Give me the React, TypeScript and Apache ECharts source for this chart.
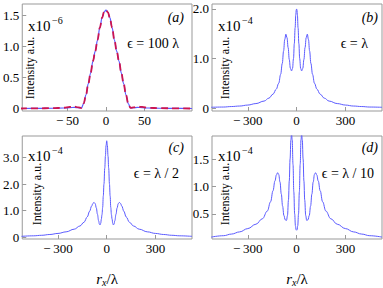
import React, { useEffect, useRef } from "react";
import * as echarts from "echarts";

// Panel (a): eps = 100 lambda
const aX = [-112, -90, -70, -55, -47, -41, -36, -32, -29, -26, -23, -20, -17, -14, -11, -8, -5, -2.5, 0, 2.5, 5, 8, 11, 14, 17, 20, 23, 26, 29, 32, 36, 41, 47, 55, 70, 90, 112];
const aRed = [0, 0.003, 0.005, 0.012, 0.025, 0.03, 0.018, 0.01, 0.08, 0.22, 0.4, 0.57, 0.76, 0.92, 1.1, 1.3, 1.46, 1.55, 1.58, 1.55, 1.46, 1.3, 1.1, 0.92, 0.76, 0.57, 0.4, 0.22, 0.08, 0.01, 0.018, 0.03, 0.025, 0.012, 0.005, 0.003, 0];
const aBlue = [0, 0.002, 0.004, 0.008, 0.015, 0.018, 0.012, 0.01, 0.08, 0.22, 0.4, 0.57, 0.76, 0.92, 1.1, 1.3, 1.46, 1.55, 1.58, 1.55, 1.46, 1.3, 1.1, 0.92, 0.76, 0.57, 0.4, 0.22, 0.08, 0.01, 0.012, 0.018, 0.015, 0.008, 0.004, 0.002, 0];

// Panel (b): eps = lambda
const bX = [-525, -450, -400, -350, -300, -250, -200, -170, -145, -125, -110, -98, -88, -80, -73, -66, -59, -52, -45, -38, -31, -25, -19, -14, -9, -5, -2, 0, 2, 5, 9, 14, 19, 25, 31, 38, 45, 52, 59, 66, 73, 80, 88, 98, 110, 125, 145, 170, 200, 250, 300, 350, 400, 450, 525];
const bY = [0.015, 0.02, 0.03, 0.04, 0.06, 0.09, 0.14, 0.2, 0.28, 0.38, 0.5, 0.68, 0.9, 1.15, 1.38, 1.49, 1.42, 1.22, 0.98, 0.8, 0.75, 0.8, 1.0, 1.3, 1.62, 1.88, 1.98, 2.0, 1.98, 1.88, 1.62, 1.3, 1.0, 0.8, 0.75, 0.8, 0.98, 1.22, 1.42, 1.49, 1.38, 1.15, 0.9, 0.68, 0.5, 0.38, 0.28, 0.2, 0.14, 0.09, 0.06, 0.04, 0.03, 0.02, 0.015];

// Panel (c): eps = lambda / 2
const cX = [-525, -450, -400, -350, -300, -250, -200, -165, -140, -120, -105, -93, -85, -78, -71, -64, -57, -50, -45, -41, -37, -33, -29, -25, -21, -17, -12, -8, -4, 0, 4, 8, 12, 17, 21, 25, 29, 33, 37, 41, 45, 50, 57, 64, 71, 78, 85, 93, 105, 120, 140, 165, 200, 250, 300, 350, 400, 450, 525];
const cY = [0.03, 0.05, 0.07, 0.1, 0.14, 0.2, 0.3, 0.42, 0.56, 0.76, 0.98, 1.17, 1.27, 1.31, 1.26, 1.1, 0.86, 0.62, 0.49, 0.46, 0.52, 0.68, 0.85, 1.12, 1.55, 2.0, 2.6, 3.05, 3.45, 3.63, 3.45, 3.05, 2.6, 2.0, 1.55, 1.12, 0.85, 0.68, 0.52, 0.46, 0.49, 0.62, 0.86, 1.1, 1.26, 1.31, 1.27, 1.17, 0.98, 0.76, 0.56, 0.42, 0.3, 0.2, 0.14, 0.1, 0.07, 0.05, 0.03];

// Panel (d): eps = lambda / 10
const dX = [-525, -450, -400, -350, -300, -250, -210, -180, -160, -145, -133, -124, -117, -110, -102, -94, -86, -78, -70, -62, -56, -50, -45, -40, -35, -31, -27, -22, -17, -12, -7, -3, 0, 3, 7, 12, 17, 22, 27, 31, 35, 40, 45, 50, 56, 62, 70, 78, 86, 94, 102, 110, 117, 124, 133, 145, 160, 180, 210, 250, 300, 350, 400, 450, 525];
const dY = [0.075, 0.1, 0.13, 0.17, 0.23, 0.31, 0.41, 0.55, 0.72, 0.92, 1.1, 1.21, 1.25, 1.22, 1.08, 0.86, 0.64, 0.47, 0.39, 0.38, 0.47, 0.75, 1.1, 1.5, 1.85, 1.97, 1.85, 1.4, 0.9, 0.5, 0.28, 0.21, 0.2, 0.21, 0.28, 0.5, 0.9, 1.4, 1.85, 1.97, 1.85, 1.5, 1.1, 0.75, 0.47, 0.38, 0.39, 0.47, 0.64, 0.86, 1.08, 1.22, 1.25, 1.21, 1.1, 0.92, 0.72, 0.55, 0.41, 0.31, 0.23, 0.17, 0.13, 0.1, 0.075];

const xTicksA = [-50, 0, 50];
const xTicksBig = [-300, 0, 300];
const yTicksA = [0, 0.5, 1.0, 1.5];
const yTicksB = [0, 1.0, 2.0];
const yTicksC = [0, 1.0, 2.0, 3.0];
const yTicksD = [0.5, 1.0, 1.5];

const SERIF = "Liberation Serif, Times New Roman, DejaVu Serif, serif";
const FRAME = "#999999";
const BLUE = "#5b5bff";
const RED = "#cc1450";

const zip = (xs: number[], ys: number[]) => xs.map((x, i) => [x, ys[i]]);

const fmtX = (v: number) => (v < 0 ? "\u2212\u2009" + Math.abs(v) : String(v));
const fmtY = (v: number) => (v === 0 ? "0" : v.toFixed(1));

export default function App() {
  const ref = useRef<HTMLDivElement>(null);
  useEffect(() => {
    if (!ref.current) return;
    const chart = echarts.init(ref.current, undefined, { renderer: "svg" });

    const grids = [
      { left: 20, top: 4, width: 172, height: 107 },
      { left: 212, top: 4, width: 170, height: 107 },
      { left: 22, top: 136, width: 170, height: 103 },
      { left: 212, top: 136, width: 170, height: 103 },
    ].map((g) => ({ ...g, show: true, borderColor: FRAME, borderWidth: 1, containLabel: false }));

    const xRanges = [
      [-109, 112, xTicksA],
      [-520, 525, xTicksBig],
      [-520, 525, xTicksBig],
      [-520, 525, xTicksBig],
    ] as const;
    const yRanges = [
      [-0.04, 1.68, yTicksA],
      [-0.06, 2.1, yTicksB],
      [-0.07, 3.81, yTicksC],
      [0.04, 1.92, yTicksD],
    ] as const;

    const xAxis = xRanges.map(([min, max, ticks], i) => ({
      type: "value",
      gridIndex: i,
      min,
      max,
      position: "bottom",
      axisLine: { show: false, onZero: false },
      splitLine: { show: false },
      axisTick: { show: true, inside: true, length: 4, customValues: ticks as any, lineStyle: { color: FRAME } },
      axisLabel: {
        customValues: ticks as any,
        formatter: fmtX,
        fontFamily: SERIF,
        fontSize: 13,
        color: "#000",
        margin: 3,
      },
      ...(i >= 2
        ? {
            name: "{r|r}{s|x}{n|/λ}",
            nameLocation: "middle",
            nameGap: 31,
            nameTextStyle: {
              rich: {
                r: { fontFamily: SERIF, fontStyle: "italic", fontSize: 15, color: "#000" },
                s: { fontFamily: SERIF, fontStyle: "italic", fontSize: 10, color: "#000", verticalAlign: "bottom", padding: [7, 0, 0, 0] },
                n: { fontFamily: SERIF, fontSize: 15, color: "#000" },
              },
            },
          }
        : {}),
    }));

    const yAxis = yRanges.map(([min, max, ticks], i) => ({
      type: "value",
      gridIndex: i,
      min,
      max,
      position: "left",
      axisLine: { show: false, onZero: false },
      splitLine: { show: false },
      axisTick: { show: true, inside: true, length: 4, customValues: ticks as any, lineStyle: { color: FRAME } },
      axisLabel: {
        customValues: ticks as any,
        formatter: fmtY,
        fontFamily: SERIF,
        fontSize: 13,
        color: "#000",
        margin: 3,
      },
    }));

    const line = (idx: number, data: number[][], color: string, width: number, dashed = false) => ({
      type: "line",
      xAxisIndex: idx,
      yAxisIndex: idx,
      data,
      showSymbol: false,
      smooth: 0.4,
      smoothMonotone: "x",
      clip: true,
      lineStyle: { color, width, type: dashed ? [7, 4] : "solid" },
    });

    const series = [
      line(0, zip(aX, aBlue), BLUE, 1.2),
      line(0, zip(aX, aRed), RED, 1.8, true),
      line(1, zip(bX, bY), BLUE, 1),
      line(2, zip(cX, cY), BLUE, 1),
      line(3, zip(dX, dY), BLUE, 1),
    ];

    const txt = (text: string, x: number, y: number, size: number, opts: any = {}) => ({
      type: "text",
      x,
      y,
      rotation: opts.rotation || 0,
      style: {
        text,
        fontFamily: SERIF,
        fontSize: size,
        fontStyle: opts.italic ? "italic" : "normal",
        fill: "#000",
        textAlign: opts.align || "left",
        textVerticalAlign: opts.valign || "middle",
      },
    });

    const panels = [
      { ox: 0, oy: 0, label: "(a)", eps: "ϵ = 100 λ", exp: "\u22126", intX: 30 },
      { ox: 190, oy: 0, label: "(b)", eps: "ϵ = λ", exp: "\u22124", intX: 35 },
      { ox: 0, oy: 130, label: "(c)", eps: "ϵ = λ / 2", exp: "\u22124", intX: 37 },
      { ox: 190, oy: 130, label: "(d)", eps: "ϵ = λ / 10", exp: "\u22124", intX: 35 },
    ];
    const graphic: any[] = [];
    panels.forEach((p, i) => {
      const right = i % 2 === 0 ? 184 : 378;
      const oy = p.oy;
      graphic.push(txt("x10", p.ox + 28, oy + 26, 15));
      graphic.push(txt(p.exp, p.ox + 52, oy + 20, 10));
      graphic.push(txt(p.label, right, oy + 17, 14, { italic: true, align: "right" }));
      graphic.push(txt(p.eps, right - (i === 1 ? 10 : 5) + (i === 3 ? 1 : 0), oy + 43, 14, { align: "right" }));
      graphic.push(
        txt("Intensity a.u.", p.ox + p.intX, oy + (i < 2 ? 68 : 64), 12, {
          rotation: Math.PI / 2,
          align: "center",
        })
      );
    });

    chart.setOption({
      animation: false,
      backgroundColor: "#fff",
      grid: grids,
      xAxis,
      yAxis,
      series,
      graphic,
    } as any);
    return () => chart.dispose();
  }, []);
  return <div ref={ref} style={{ position: "fixed", left: 0, top: 0, width: 383, height: 288 }} />;
}
